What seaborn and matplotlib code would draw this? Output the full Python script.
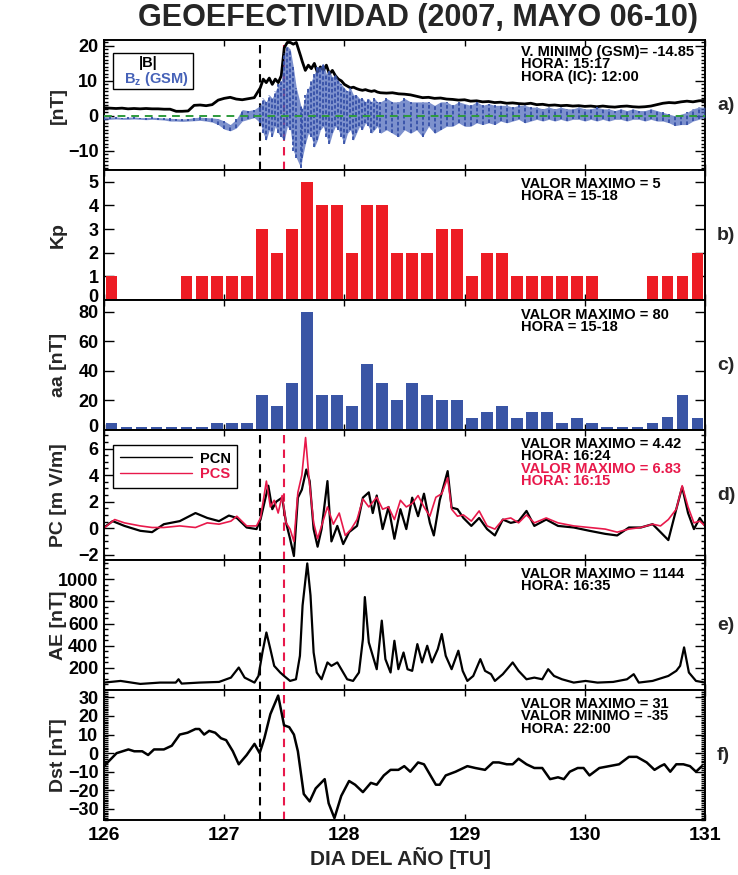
import numpy as np
import pandas as pd
import matplotlib
matplotlib.use("Agg")
import matplotlib.pyplot as plt
from matplotlib.lines import Line2D
from matplotlib.patches import Rectangle
from matplotlib.ticker import MultipleLocator, FixedLocator, NullLocator
from matplotlib.transforms import ScaledTranslation
import seaborn as sns

sns.set_style("ticks")
plt.rcParams["font.family"] = ["Liberation Sans", "DejaVu Sans"]
plt.rcParams["font.weight"] = "bold"
plt.rcParams["axes.labelweight"] = "bold"
plt.rcParams["mathtext.fontset"] = "custom"
plt.rcParams["mathtext.bf"] = "Liberation Sans:bold"
plt.rcParams["mathtext.rm"] = "Liberation Sans:bold"

# ---------------- data ----------------
# Interplanetary magnetic field (day of year, nT)
t_mag = [126.00, 126.05, 126.10, 126.15, 126.20, 126.25, 126.30, 126.35, 126.40, 126.45,
         126.50, 126.55, 126.60, 126.65, 126.70, 126.75, 126.80, 126.85, 126.90, 126.95,
         127.00, 127.05, 127.10, 127.15, 127.20, 127.25,
         127.300, 127.325, 127.350, 127.375, 127.400, 127.425, 127.450, 127.475, 127.500, 127.525,
         127.550, 127.575, 127.600, 127.637, 127.650, 127.675, 127.700, 127.725, 127.750, 127.775,
         127.800, 127.825, 127.850, 127.875, 127.900, 127.925, 127.950, 127.975, 128.000, 128.025,
         128.050, 128.075, 128.100, 128.125, 128.150, 128.175, 128.200, 128.225, 128.250, 128.275,
         128.300,
         128.35, 128.40, 128.45, 128.50, 128.55, 128.60, 128.65, 128.70, 128.75, 128.80,
         128.85, 128.90, 128.95, 129.00, 129.05, 129.10, 129.15, 129.20, 129.25, 129.30,
         129.35, 129.40, 129.45, 129.50, 129.55, 129.60, 129.65, 129.70, 129.75, 129.80,
         129.85, 129.90, 129.95, 130.00, 130.05, 130.10, 130.15, 130.20, 130.25, 130.30,
         130.35, 130.40, 130.45, 130.50, 130.55, 130.60, 130.65, 130.70, 130.75, 130.80,
         130.85, 130.90, 130.95, 131.00]
b_total = [2.3, 2.2, 2.1, 2.2, 2.0, 2.1, 2.0, 2.1, 2.0, 2.0,
           1.9, 1.9, 1.3, 1.3, 1.4, 3.0, 3.1, 2.9, 3.2, 4.5,
           5.0, 5.3, 4.8, 4.6, 4.9, 5.2,
           8.0, 10.5, 9.5, 10.8, 9.0, 10.5, 9.5, 11.5, 19.5, 21.0,
           21.0, 20.5, 21.0, 17.0, 15.5, 13.0, 14.5, 13.5, 15.0, 12.5,
           14.0, 13.0, 14.5, 12.0, 13.0, 11.5, 10.5, 10.0, 9.0, 8.5,
           8.0, 8.2, 7.8, 7.5, 7.3, 7.5, 7.2, 7.0, 7.2, 6.8,
           6.6,
           6.5, 6.6, 6.3, 6.2, 6.0, 5.6, 5.2, 5.3, 5.0, 5.1,
           4.8, 4.7, 4.5, 4.6, 4.2, 4.3, 4.0, 4.1, 3.8, 3.9,
           3.6, 3.7, 3.5, 3.4, 3.6, 3.2, 3.3, 3.0, 3.1, 2.9,
           3.0, 2.8, 2.9, 2.7, 2.8, 2.6, 2.8, 2.6, 2.5, 2.7,
           2.8, 2.6, 2.5, 2.6, 2.8, 3.2, 3.6, 3.8, 3.7, 4.0,
           4.2, 4.0, 4.3, 4.4]
bz_low = [-1.2, -1.0, -0.9, -1.0, -1.0, -0.9, -1.0, -1.1, -1.0, -1.1,
          -1.2, -1.5, -1.5, -1.6, -1.5, -1.4, -1.3, -1.5, -1.8, -2.5,
          -3.8, -4.3, -3.5, -1.5, -1.0, -0.5,
          -2, -5, -7, -4, -6, -3, -5, -6, -7, -3,
          -4, -10, -12, -14.85, -12, -8, -5, -6, -9, -7,
          -4, -3, -6, -8, -5, -3, -4, -6, -8, -5,
          -4, -7, -5, -3, -4, -2, -3, -5, -4, -3,
          -5,
          -4, -5, -6, -4, -5, -4, -6, -3, -5, -4,
          -3, -3, -2, -3, -3, -2, -2.5, -2, -2.5, -1.5,
          -2, -1.5, -1, -2, -1.5, -1, -1.5, -1, -1.5, -1,
          -1.5, -1, -1, -1.5, -1, -1.5, -1, -1.5, -1, -1,
          -1.5, -1, -1, -1.5, -1, -1.5, -1.5, -2, -2.8, -2.5,
          -2.5, -1.5, -1, -0.5]
bz_high = [-0.3, -0.4, -0.3, -0.5, -0.4, -0.3, -0.5, -0.5, -0.4, -0.5,
           -0.6, -0.7, -0.8, -0.9, -0.8, -0.5, -0.4, -0.5, -0.6, -0.8,
           -1.5, -2.5, -1.0, 1.8, 1.5, 1.8,
           3, 5, 4, 6, 5, 7, 9, 10, 18, 20,
           19, 14, 8, 3, 2, 6, 8, 10, 12, 14,
           14, 15, 12, 13, 11, 12, 10, 9, 8, 7,
           8, 6, 6, 5, 5, 4, 5, 4, 5, 4,
           4,
           5, 4, 4, 5, 4, 4, 4, 4, 3, 4,
           4, 3, 4, 3.5, 3, 4, 3, 3.5, 3, 3,
           3, 2.5, 3, 3, 2.5, 2.5, 2, 2.5, 2, 2.5,
           2, 2, 2.5, 2, 2, 2.5, 2, 2, 1.5, 2,
           1.5, 2, 1.5, 1.5, 2, 1.5, 1, 0.5, 0, 0.5,
           1, 2, 2.5, 2.5]

# 3-hour planetary indices (one value per 3-hour interval, 06-10 May)
kp_values = [1, 0, 0, 0, 0, 1, 1, 1, 1, 1,
             3, 2, 3, 5, 4, 4, 2, 4, 4, 2,
             2, 2, 3, 3, 1, 2, 2, 1, 1, 1,
             1, 1, 1, 0, 0, 0, 1, 1, 1, 2]
aa_values = [5, 2, 2, 2, 2, 2, 2, 5, 5, 5,
             24, 16, 32, 80, 24, 24, 16, 45, 32, 20,
             32, 24, 20, 20, 8, 12, 16, 8, 12, 12,
             5, 8, 5, 2, 2, 2, 5, 9, 24, 8]
t_3h = 126.0 + (np.arange(40) + 0.5) * 0.125

# Polar cap indices (mV/m)
t_pcn = [126.0, 126.072, 126.170, 126.302, 126.400, 126.498, 126.630, 126.761, 126.859, 126.957,
         127.039, 127.105, 127.187, 127.269, 127.302, 127.367, 127.400, 127.433, 127.482, 127.515,
         127.548, 127.580, 127.613, 127.646, 127.683, 127.711, 127.744, 127.777, 127.810, 127.859,
         127.892, 127.941, 127.990, 128.039, 128.105, 128.154, 128.203, 128.236, 128.269, 128.318,
         128.367, 128.416, 128.466, 128.515, 128.564, 128.613, 128.662, 128.711, 128.744, 128.793,
         128.859, 128.892, 128.941, 128.990, 129.056, 129.121, 129.187, 129.252, 129.318, 129.384,
         129.449, 129.515, 129.580, 129.679, 129.777, 129.908, 130.039, 130.170, 130.269, 130.367,
         130.466, 130.564, 130.630, 130.695, 130.761, 130.810, 130.859, 130.908, 130.957, 131.0]
pcn = [0.05, 0.53, 0.17, -0.2, -0.3, 0.3, 0.53, 1.14, 0.77, 0.53,
       0.95, 0.77, 0.05, -0.07, 0.65, 3.2, 1.43, 2.0, 2.3, 0.4,
       -0.8, -2.1, 2.3, 2.9, 4.42, 3.55, -0.07, -1.4, -0.07, 3.55,
       -1.0, 0.17, -1.2, -0.3, 0.17, 2.3, 2.7, 1.14, 2.46, -0.07,
       1.6, -0.8, 1.43, -0.07, 2.3, 0.9, 2.6, 0.4, -0.55, 2.1,
       4.3, 1.55, 1.43, 0.77, 0.17, 0.77, -0.07, -0.55, 0.65, 0.4,
       0.53, 1.3, 0.17, 0.65, 0.17, 0.05, -0.2, -0.43, -0.55, 0.05,
       0.05, 0.3, -0.3, -0.9, 1.43, 3.1, 1.14, -0.07, 0.77, 0.17]
t_pcs = [126.0, 126.089, 126.170, 126.302, 126.400, 126.498, 126.630, 126.761, 126.859, 126.957,
         127.056, 127.105, 127.187, 127.269, 127.302, 127.351, 127.384, 127.416, 127.449, 127.482,
         127.515, 127.548, 127.580, 127.613, 127.646, 127.677, 127.705, 127.744, 127.777, 127.810,
         127.859, 127.908, 127.957, 128.007, 128.056, 128.105, 128.154, 128.203, 128.269, 128.318,
         128.367, 128.416, 128.466, 128.515, 128.564, 128.613, 128.662, 128.711, 128.761, 128.810,
         128.859, 128.892, 128.941, 128.990, 129.056, 129.121, 129.187, 129.252, 129.318, 129.384,
         129.449, 129.515, 129.580, 129.679, 129.777, 129.908, 130.039, 130.170, 130.269, 130.367,
         130.466, 130.564, 130.630, 130.695, 130.761, 130.810, 130.859, 130.908, 130.957, 131.0]
pcs = [0.0, 0.65, 0.4, 0.17, 0.05, 0.05, 0.17, 0.05, 0.4, 0.3,
       0.53, 0.9, 0.17, 0.17, 0.77, 3.55, 1.6, 2.1, 1.14, 2.46,
       0.4, -0.07, -1.0, 2.7, 4.0, 6.83, 3.8, 0.4, -0.8, 0.17,
       1.6, 0.3, 1.14, -0.55, -0.07, 0.65, 2.2, 1.6, 2.33, 1.43,
       1.6, 0.65, 2.1, 1.6, 1.86, 2.46, 1.6, 0.9, 2.33, 2.6,
       3.8, 1.43, 0.9, 1.0, 0.53, 1.3, 0.17, -0.07, 0.65, 0.77,
       0.4, 1.0, 0.4, 0.77, 0.4, 0.17, 0.05, -0.07, -0.3, -0.07,
       0.05, 0.3, 0.17, 0.65, 1.43, 3.2, 1.6, 0.4, 0.53, 0.17]

# Auroral electrojet index (nT)
t_ae = [126.0, 126.138, 126.302, 126.466, 126.597, 126.620, 126.646, 126.793, 126.957, 127.056,
        127.121, 127.170, 127.252, 127.285, 127.318, 127.351, 127.384, 127.416, 127.466, 127.498,
        127.548, 127.597, 127.630, 127.652, 127.691, 127.718, 127.744, 127.770, 127.810, 127.859,
        127.892, 127.941, 127.974, 128.023, 128.072, 128.121, 128.154, 128.170, 128.203, 128.236,
        128.269, 128.311, 128.341, 128.384, 128.416, 128.449, 128.492, 128.525, 128.564, 128.607,
        128.646, 128.689, 128.728, 128.777, 128.810, 128.843, 128.892, 128.948, 128.984, 129.023,
        129.072, 129.131, 129.170, 129.220, 129.252, 129.318, 129.400, 129.449, 129.515, 129.580,
        129.646, 129.695, 129.744, 129.810, 129.908, 130.007, 130.105, 130.236, 130.351, 130.407,
        130.449, 130.564, 130.695, 130.761, 130.793, 130.826, 130.866, 130.925, 131.0]
ae = [67, 82, 55, 67, 67, 97, 58, 67, 73, 112,
      203, 112, 67, 127, 339, 520, 370, 218, 158, 127,
      82, 97, 309, 764, 1144, 855, 339, 158, 97, 249,
      218, 249, 188, 97, 82, 158, 460, 840, 430, 309,
      188, 627, 279, 158, 445, 188, 339, 188, 173, 415,
      249, 400, 249, 370, 506, 309, 188, 355, 173, 82,
      127, 279, 173, 143, 82, 143, 249, 173, 97, 112,
      97, 188, 127, 97, 67, 82, 67, 73, 97, 143,
      67, 82, 127, 173, 218, 385, 158, 82, 67]

# Disturbance storm time index (nT)
t_dst = [126.0, 126.105, 126.203, 126.252, 126.318, 126.367, 126.416, 126.498, 126.564, 126.630,
         126.695, 126.761, 126.793, 126.833, 126.875, 126.925, 126.974, 127.016, 127.072, 127.121,
         127.187, 127.252, 127.295, 127.334, 127.384, 127.449, 127.498, 127.541, 127.580, 127.613,
         127.662, 127.711, 127.761, 127.836, 127.869, 127.917, 127.974, 128.039, 128.089, 128.154,
         128.220, 128.269, 128.328, 128.384, 128.449, 128.498, 128.548, 128.613, 128.662, 128.761,
         128.793, 128.843, 128.925, 129.023, 129.089, 129.170, 129.236, 129.285, 129.351, 129.400,
         129.449, 129.515, 129.580, 129.646, 129.711, 129.777, 129.826, 129.875, 129.941, 129.990,
         130.039, 130.121, 130.203, 130.285, 130.367, 130.433, 130.515, 130.580, 130.630, 130.662,
         130.711, 130.761, 130.820, 130.875, 130.925, 130.974]
dst = [-7, 0, 2, 1, 1, -1, 2, 2, 4, 10,
       11, 13, 13, 10, 12, 11, 8, 7, 1, -6,
       -1, 5, 0, 8, 21, 31, 15, 14, 10, 1,
       -22, -26, -19, -14, -27, -35, -23, -15, -17, -21,
       -16, -17, -12, -9, -9, -7, -10, -5, -6, -17,
       -17, -12, -10, -7, -8, -9, -5, -5, -6, -6,
       -3, -6, -8, -8, -14, -13, -14, -10, -8, -8,
       -12, -8, -7, -6, -2, -2, -5, -9, -7, -6,
       -10, -6, -6, -7, -10, -7]

t_shock = 127.3
t_cloud = 127.5

# ---------------- styling ----------------
RED_BAR = "#ED1C24"
BLUE_BAR = "#3A55A5"
BZ_BLUE = "#4662B8"
PC_RED = "#E8194B"
GREEN = "#2E9B3C"
DASH = (0, (4, 3))

fig = plt.figure(figsize=(7.38, 8.75), dpi=100)
left, width = 104 / 738, 601 / 738
top_px, h_px = 40, 130
axes = []
for i in range(6):
    y0 = 1 - (top_px + (i + 1) * h_px) / 875
    axes.append(fig.add_axes([left, y0, width, h_px / 875]))


def style(ax, ylim, major, minor=None, ylabel="", show_x=False):
    ax.set_xlim(126, 131)
    ax.set_ylim(*ylim)
    ax.xaxis.set_major_locator(MultipleLocator(1))
    ax.xaxis.set_minor_locator(NullLocator())
    ax.yaxis.set_major_locator(FixedLocator(major))
    ax.yaxis.set_minor_locator(MultipleLocator(minor) if minor else NullLocator())
    ax.tick_params(axis="both", which="both", direction="in", top=True, right=True,
                   width=1.0, colors="k")
    ax.tick_params(axis="y", which="major", length=7, labelsize=13, pad=4)
    ax.tick_params(axis="y", which="minor", length=3)
    ax.tick_params(axis="x", which="major", length=4, labelsize=14, pad=5,
                   labelbottom=show_x)
    for s in ax.spines.values():
        s.set_linewidth(1.4)
        s.set_color("k")
    ax.set_xlabel("")
    ax.set_ylabel(ylabel, fontsize=14, fontweight="bold")
    ax.yaxis.set_label_coords(-0.062, 0.5)


def lift_bottom_label(ax, px):
    # nudge the lowest y tick label up so it clears the panel below
    fig.canvas.draw()
    lab = ax.yaxis.get_majorticklabels()[0]
    lab.set_transform(lab.get_transform() + ScaledTranslation(0, px / 100, fig.dpi_scale_trans))


def notes(ax, lines, y0, colors=None, dy=0.097):
    for k, s in enumerate(lines):
        c = colors[k] if colors else "k"
        ax.text(0.694, y0 - k * dy, s, transform=ax.transAxes, ha="left", va="top",
                fontsize=10.5, fontweight="bold", color=c)


def event_lines(ax):
    ax.axvline(t_shock, color="k", ls=DASH, lw=1.5, zorder=1)
    ax.axvline(t_cloud, color=PC_RED, ls=DASH, lw=1.5, zorder=1)


# a) magnetic field
ax = axes[0]
event_lines(ax)
sns.lineplot(x=t_mag, y=b_total, ax=ax, color="k", lw=2.0, estimator=None, sort=False,
             zorder=2)
ax.fill_between(t_mag, bz_low, bz_high, color=BZ_BLUE, lw=0, alpha=0.7, zorder=3)
ax.vlines(t_mag, bz_low, bz_high, colors="#3550A8", lw=1.3, linestyles=(0, (2.0, 1.2)),
          zorder=3)
ax.axhline(0, color=GREEN, ls=DASH, lw=1.4, zorder=5)
style(ax, (-15.5, 21.7), [-10, 0, 10, 20], 1, "[nT]")
ax.add_patch(Rectangle((0.015, 0.625), 0.133, 0.273, transform=ax.transAxes,
                       facecolor="white", edgecolor="k", lw=1.0, zorder=6))
ax.text(0.058, 0.82, "|B|", transform=ax.transAxes, fontsize=10.5, fontweight="bold",
        color="k", va="center", zorder=7)
ax.text(0.034, 0.70, r"$\mathbf{B_z}$ (GSM)", transform=ax.transAxes, fontsize=10.5,
        fontweight="bold", color=BZ_BLUE, va="center", zorder=7)
notes(ax, ["V. MINIMO (GSM)= -14.85", "HORA: 15:17", "HORA (IC): 12:00"], 0.965)

# b) Kp
ax = axes[1]
sns.barplot(x=t_3h, y=kp_values, native_scale=True, width=0.78, color=RED_BAR,
            saturation=1, errorbar=None, linewidth=0, ax=ax)
style(ax, (0, 5.5), [0, 1, 2, 3, 4, 5], None, "Kp")
notes(ax, ["VALOR MAXIMO = 5", "HORA = 15-18"], 0.95)

# c) aa
ax = axes[2]
sns.barplot(x=t_3h, y=aa_values, native_scale=True, width=0.78, color=BLUE_BAR,
            saturation=1, errorbar=None, linewidth=0, ax=ax)
style(ax, (0, 88), [0, 20, 40, 60, 80], None, "aa [nT]")
notes(ax, ["VALOR MAXIMO = 80", "HORA = 15-18"], 0.94)

# d) PC indices
ax = axes[3]
event_lines(ax)
sns.lineplot(x=t_pcn, y=pcn, ax=ax, color="k", lw=1.6, estimator=None, sort=False)
sns.lineplot(x=t_pcs, y=pcs, ax=ax, color=PC_RED, lw=1.2, estimator=None, sort=False)
style(ax, (-2.4, 7.4), [-2, 0, 2, 4, 6], 0.5, "PC [m V/m]")
handles = [Line2D([], [], color="k", lw=1.0), Line2D([], [], color=PC_RED, lw=1.0)]
leg = ax.legend(handles, ["PCN", "PCS"], loc="upper left", bbox_to_anchor=(0.015, 0.885),
                borderaxespad=0, frameon=True, fancybox=False, edgecolor="k",
                framealpha=1, handlelength=5.0, handletextpad=0.5, fontsize=10.5,
                borderpad=0.45, labelspacing=0.1, labelcolor=["k", PC_RED])
leg.get_frame().set_linewidth(1.0)
notes(ax, ["VALOR MAXIMO = 4.42", "HORA: 16:24", "VALOR MAXIMO = 6.83", "HORA: 16:15"],
      0.945, colors=["k", "k", PC_RED, PC_RED], dy=0.095)

# e) AE
ax = axes[4]
event_lines(ax)
sns.lineplot(x=t_ae, y=ae, ax=ax, color="k", lw=1.6, estimator=None, sort=False)
style(ax, (0, 1175), [200, 400, 600, 800, 1000], 50, "AE [nT]")
notes(ax, ["VALOR MAXIMO = 1144", "HORA: 16:35"], 0.95)

# f) Dst
ax = axes[5]
event_lines(ax)
sns.lineplot(x=t_dst, y=dst, ax=ax, color="k", lw=1.8, estimator=None, sort=False)
style(ax, (-36, 34), [-30, -20, -10, 0, 10, 20, 30], 1, "Dst [nT]", show_x=True)
notes(ax, ["VALOR MAXIMO = 31", "VALOR MINIMO = -35", "HORA: 22:00"], 0.95)

for ax, lab in zip(axes, ["a)", "b)", "c)", "d)", "e)", "f)"]):
    ax.text(1.02, 0.5, lab, transform=ax.transAxes, fontsize=14, fontweight="bold",
            va="center", ha="left")

fig.text(0.566, 0.979, "GEOEFECTIVIDAD (2007, MAYO 06-10)", ha="center", va="center",
         fontsize=22, fontweight="bold")
fig.text(0.542, 0.0195, "DIA DEL AÑO [TU]", ha="center", va="center", fontsize=15,
         fontweight="bold")

lift_bottom_label(axes[1], 5)
lift_bottom_label(axes[2], 4)

fig.savefig("out.png", dpi=100)
